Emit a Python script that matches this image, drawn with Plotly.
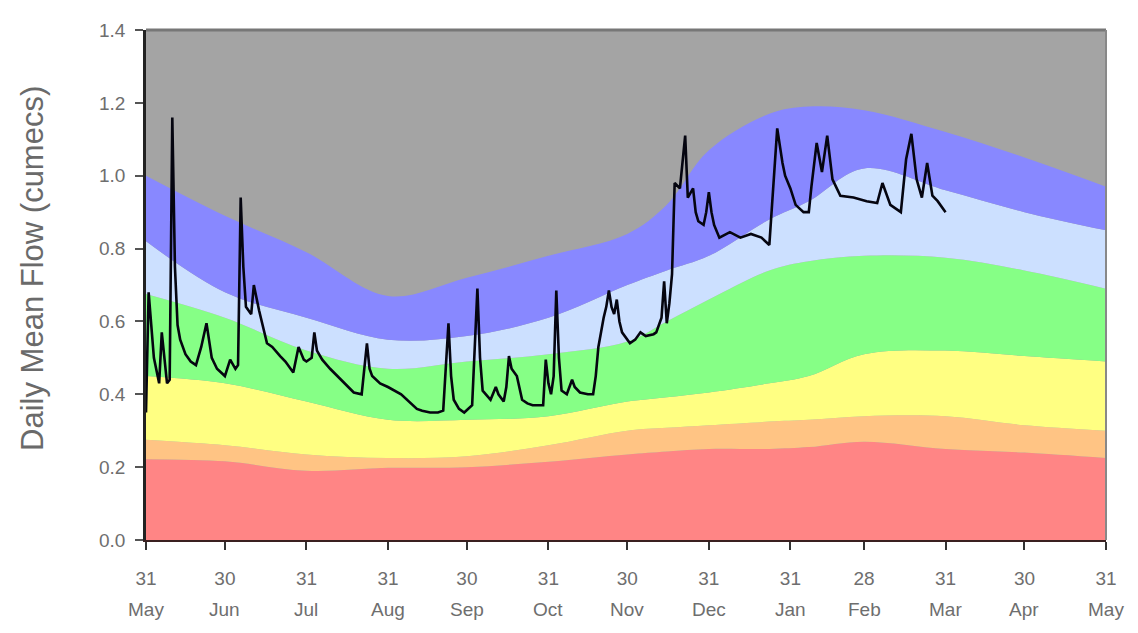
import plotly.graph_objects as go

# ---- x-axis ticks (days after 31 May) ----
tick_days = [0, 30, 61, 92, 122, 153, 183, 214, 245, 273, 304, 334, 365]
tick_daynum = ["31", "30", "31", "31", "30", "31", "30", "31", "31", "28", "31", "30", "31"]
tick_month = ["May", "Jun", "Jul", "Aug", "Sep", "Oct", "Nov", "Dec", "Jan", "Feb", "Mar", "Apr", "May"]

# ---- flow band boundaries (upper edge of each band) ----
band_day = [0, 30, 61, 92, 122, 153, 183, 198, 214, 237, 252, 273, 304, 334, 365]
red_top =    [0.222, 0.216, 0.190, 0.198, 0.200, 0.215, 0.235, 0.243, 0.250, 0.250, 0.255, 0.270, 0.250, 0.240, 0.225]
orange_top = [0.275, 0.260, 0.235, 0.225, 0.230, 0.260, 0.300, 0.308, 0.315, 0.325, 0.330, 0.340, 0.340, 0.315, 0.300]
yellow_top = [0.450, 0.430, 0.380, 0.330, 0.330, 0.340, 0.380, 0.392, 0.405, 0.430, 0.450, 0.510, 0.520, 0.505, 0.490]
green_top =  [0.675, 0.610, 0.520, 0.470, 0.490, 0.510, 0.545, 0.600, 0.660, 0.740, 0.765, 0.780, 0.775, 0.740, 0.690]
ltblue_top = [0.820, 0.680, 0.610, 0.550, 0.560, 0.610, 0.700, 0.740, 0.780, 0.880, 0.930, 1.020, 0.960, 0.900, 0.850]
blue_top =   [1.000, 0.890, 0.790, 0.670, 0.720, 0.780, 0.840, 0.920, 1.070, 1.170, 1.190, 1.180, 1.120, 1.050, 0.970]

# ---- observed daily mean flow ----
flow_day = [0, 1, 3, 5, 6, 8, 9, 10, 11, 12, 13, 15, 17, 19, 21, 23, 25, 27, 30, 32, 34, 35, 36, 37, 38, 40, 41,
            43, 46, 48, 51, 53, 56, 58, 60, 61, 63, 64, 65, 67, 70, 74, 77, 79, 82, 84, 85, 86, 89, 92, 97, 100,
            103, 105, 108, 111, 113, 115, 116, 117, 119, 121, 124, 126, 127, 128, 131, 133, 134, 136, 137, 138,
            139, 141, 143, 145, 147, 151, 152, 153, 154, 155, 156, 157, 158, 160, 162, 163, 165, 168, 170, 171,
            172, 174, 175, 176, 177, 178, 179, 180, 181, 184, 186, 188, 190, 193, 194, 196, 197, 198, 199, 200,
            201, 203, 205, 206, 208, 209, 210, 212, 213, 214, 215, 216, 218, 222, 226, 230, 234, 237, 239, 240,
            242, 243, 245, 247, 250, 252, 253, 255, 257, 259, 261, 264, 269, 274, 278, 280, 283, 287, 289, 291,
            293, 295, 297, 299, 301, 304]
flow_val = [0.35, 0.68, 0.50, 0.43, 0.57, 0.43, 0.44, 1.16, 0.75, 0.59, 0.55, 0.51, 0.49, 0.48, 0.53, 0.595, 0.50,
            0.47, 0.45, 0.495, 0.47, 0.48, 0.94, 0.75, 0.64, 0.62, 0.70, 0.63, 0.54, 0.53, 0.505, 0.49, 0.46, 0.53,
            0.495, 0.49, 0.50, 0.57, 0.52, 0.495, 0.47, 0.44, 0.42, 0.405, 0.40, 0.54, 0.47, 0.45, 0.43, 0.42, 0.40,
            0.38, 0.36, 0.355, 0.35, 0.35, 0.355, 0.595, 0.45, 0.385, 0.36, 0.35, 0.37, 0.69, 0.50, 0.41, 0.385,
            0.42, 0.40, 0.38, 0.42, 0.505, 0.47, 0.45, 0.385, 0.375, 0.37, 0.37, 0.495, 0.43, 0.40, 0.45, 0.685,
            0.50, 0.41, 0.40, 0.44, 0.42, 0.405, 0.40, 0.40, 0.45, 0.53, 0.61, 0.64, 0.685, 0.64, 0.62, 0.66, 0.60,
            0.57, 0.54, 0.55, 0.57, 0.56, 0.565, 0.57, 0.61, 0.71, 0.595, 0.65, 0.73, 0.98, 0.965, 1.11, 0.94,
            0.965, 0.90, 0.875, 0.865, 0.90, 0.955, 0.90, 0.865, 0.83, 0.845, 0.83, 0.84, 0.83, 0.81, 1.01, 1.13,
            1.035, 1.00, 0.965, 0.92, 0.90, 0.90, 0.97, 1.09, 1.01, 1.11, 0.99, 0.945, 0.94, 0.93, 0.925, 0.98,
            0.92, 0.90, 1.045, 1.115, 0.99, 0.94, 1.035, 0.945, 0.93, 0.90]

bands = [
    (red_top, "#ff8585"),
    (orange_top, "#ffc484"),
    (yellow_top, "#ffff82"),
    (green_top, "#86ff86"),
    (ltblue_top, "#cce0ff"),
    (blue_top, "#8888ff"),
]

fig = go.Figure()
for i, (top, col) in enumerate(bands):
    fig.add_trace(go.Scatter(
        x=band_day, y=top, mode="lines",
        line=dict(width=0, shape="spline", smoothing=1.0, color=col),
        fill="tozeroy" if i == 0 else "tonexty",
        fillcolor=col, hoverinfo="skip", showlegend=False,
    ))

fig.add_trace(go.Scatter(
    x=flow_day, y=flow_val, mode="lines",
    line=dict(color="#050510", width=2.6),
    showlegend=False,
))

tick_font = dict(family="Liberation Sans Narrow, Arial Narrow, Liberation Sans, Arial, sans-serif",
                 size=19, color="#6e6e6e")

fig.update_layout(
    width=1130, height=625,
    margin=dict(l=138, r=32, t=14, b=93),
    paper_bgcolor="white",
    plot_bgcolor="#a4a4a4",
    showlegend=False,
    xaxis=dict(
        range=[0, 365], tickmode="array", tickvals=tick_days, ticktext=tick_daynum,
        showgrid=False, zeroline=False, showline=True, linecolor="#3a2020", linewidth=2,
        ticks="outside", ticklen=8, tickwidth=1.5, tickcolor="#333333",
        tickfont=tick_font, ticklabelstandoff=12,
    ),
    yaxis=dict(
        range=[0, 1.4], tickmode="array", tickvals=[0, 0.2, 0.4, 0.6, 0.8, 1.0, 1.2, 1.4],
        ticktext=["0.0", "0.2", "0.4", "0.6", "0.8", "1.0", "1.2", "1.4"],
        showgrid=False, zeroline=False, showline=True, linecolor="#222222", linewidth=2.5,
        ticks="outside", ticklen=8, tickwidth=1.5, tickcolor="#555555",
        tickfont=dict(family="Liberation Sans, Arial, sans-serif", size=19, color="#6e6e6e"),
        ticklabelstandoff=6,
    ),
    shapes=[
        dict(type="line", xref="paper", yref="paper", x0=0, x1=1, y0=1, y1=1,
             line=dict(color="#777777", width=3), layer="above"),
        dict(type="line", xref="paper", yref="paper", x0=1, x1=1, y0=0, y1=1,
             line=dict(color="#888888", width=2), layer="above"),
    ],
)

annotations = []
for d, m in zip(tick_days, tick_month):
    annotations.append(dict(x=d, y=-0.137, xref="x", yref="paper", text=m, showarrow=False,
                            xanchor="center", yanchor="middle", font=tick_font))
annotations.append(dict(x=-0.119, y=0.533, xref="paper", yref="paper", text="Daily Mean Flow (cumecs)",
                        textangle=-90, showarrow=False, xanchor="center", yanchor="middle",
                        font=dict(family="Liberation Sans, Arial, sans-serif", size=31, color="#6a6a6a")))
fig.update_layout(annotations=annotations)

fig.write_html("out.html")
